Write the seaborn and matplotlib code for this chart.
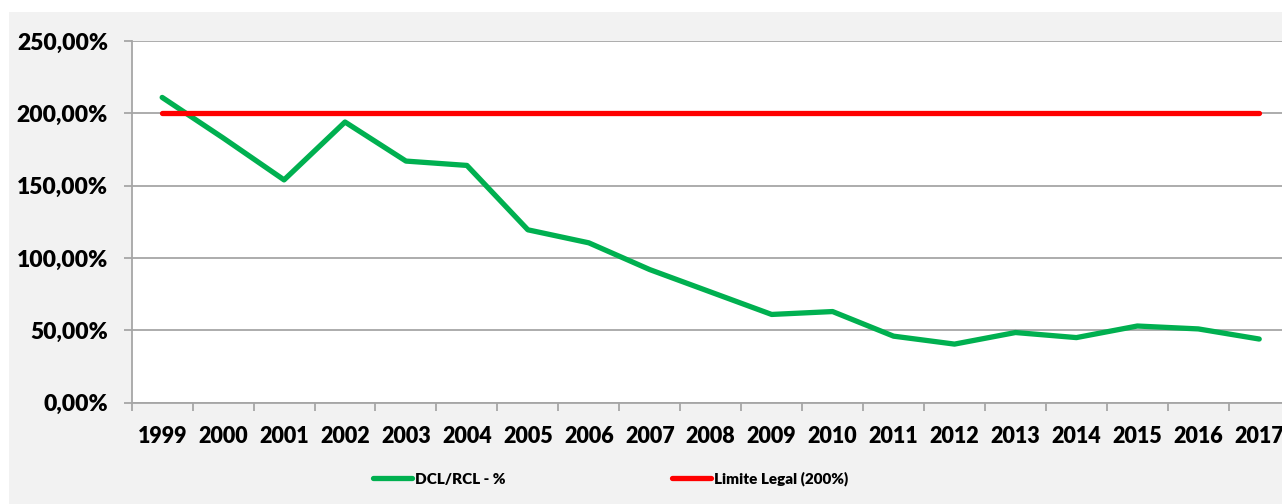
import pandas as pd
import seaborn as sns
import matplotlib.pyplot as plt
from matplotlib.patches import Rectangle
from matplotlib.ticker import FuncFormatter, FixedLocator

years = list(range(1999, 2018))
dcl_rcl = [211, 183, 154, 194, 167, 164, 119.5, 110.5, 92, 76.5, 61, 63,
           46, 40.5, 48.5, 45, 53, 51, 44]
limite_legal = [200] * len(years)

sns.set_theme(style="white")
plt.rcParams['font.family'] = ['Lato', 'DejaVu Sans']
plt.rcParams['font.weight'] = 'heavy'
plt.rcParams['text.color'] = 'black'

df = pd.DataFrame({'ano': years, 'DCL/RCL - %': dcl_rcl,
                   'Limite Legal (200%)': limite_legal})

fig = plt.figure(figsize=(12.82, 5.04), dpi=100)
fig.patch.set_facecolor('white')
# grey chart area (white strip at top and left as in the source image)
fig.patches.append(Rectangle((9 / 1282, 0), 1, 1 - 12 / 504, transform=fig.transFigure,
                             facecolor='#f2f2f2', edgecolor='none', zorder=-5))

ax = fig.add_axes([131.7 / 1282, 101.3 / 504, 1158 / 1282, 361.7 / 504])
ax.set_facecolor('white')

sns.lineplot(data=df, x='ano', y='DCL/RCL - %', ax=ax, color='#00b050',
             linewidth=3.8, label='DCL/RCL - %', solid_capstyle='round')
sns.lineplot(data=df, x='ano', y='Limite Legal (200%)', ax=ax, color='#ff0000',
             linewidth=3.8, label='Limite Legal (200%)', solid_capstyle='round')

ax.set_xlim(years[0] - 0.5, years[-1] + 0.5)
ax.set_ylim(0, 250)
ax.set_yticks(range(0, 251, 50))
ax.yaxis.set_major_formatter(FuncFormatter(lambda v, p: f"{v:.2f}".replace('.', ',') + '%'))
ax.set_xticks(years)
ax.set_xticklabels([str(y) for y in years])
ax.xaxis.set_minor_locator(FixedLocator([y - 0.5 for y in years] + [years[-1] + 0.5]))

ax.grid(axis='y', color='#a6a6a6', linewidth=1.3)
ax.set_axisbelow(True)
for s in ['top', 'right']:
    ax.spines[s].set_visible(False)
for s in ['left', 'bottom']:
    ax.spines[s].set_color('#a6a6a6')
    ax.spines[s].set_linewidth(1.3)

ax.tick_params(axis='y', which='major', left=True, length=6, width=1.3, color='#a6a6a6',
               pad=11, labelsize=16.5, labelcolor='black')
ax.tick_params(axis='x', which='major', bottom=False, length=0, pad=17,
               labelsize=15.5, labelcolor='black')
ax.tick_params(axis='x', which='minor', bottom=True, length=6, width=1.3, color='#a6a6a6')
for lab in ax.get_xticklabels() + ax.get_yticklabels():
    lab.set_fontweight('heavy')

ax.set_xlabel('')
ax.set_ylabel('')

handles, labels = ax.get_legend_handles_labels()
ax.get_legend().remove()
fig.legend(handles, labels, loc='center', bbox_to_anchor=(611 / 1282, 1 - 479 / 504),
           ncol=2, frameon=False, handlelength=2.55, handletextpad=0.2,
           columnspacing=10.9, prop={'weight': 'heavy', 'size': 11})

plt.savefig('out.png', dpi=100)
